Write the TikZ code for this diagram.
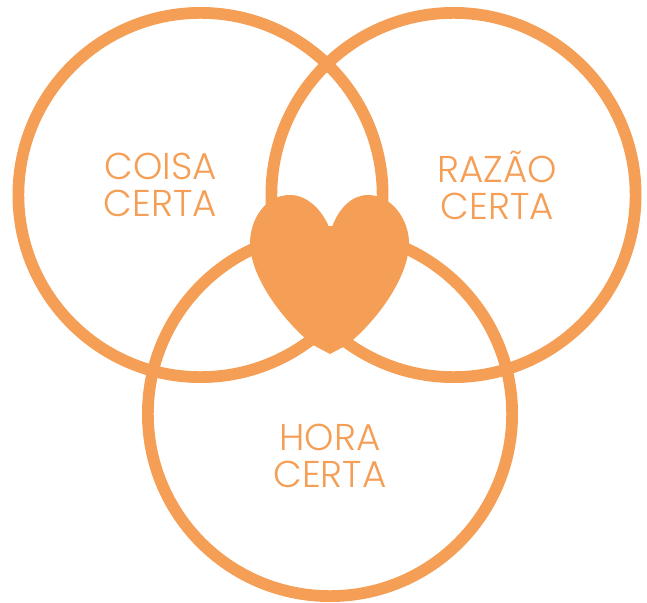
\documentclass[tikz,border=0pt]{standalone}
\usepackage{fontspec}
\setmainfont{Poppins}[UprightFont=*-Light]
\definecolor{peach}{HTML}{F59E55}
\tikzset{x=0.75pt,y=-0.75pt,
 ring/.style={draw=peach,line width=8.8pt,fill=none,circle,minimum size=273.2pt,inner sep=0pt},
 lbl/.style={text=peach,align=center,font=\fontsize{28}{27.8}\selectfont,inner sep=0pt}}
\begin{document}
\begin{tikzpicture}
\useasboundingbox (0,0) rectangle (647,603);
\node[ring] (coisa) at (200.5,195) {};
\node[ring] (razao) at (453.5,195) {};
\node[ring] (hora) at (330,414) {};
\fill[peach] (329,227) .. controls (321,208) and (306,195) .. (290,195)
 .. controls (265,195) and (250,220) .. (250,243)
 .. controls (250,275) and (280,318) .. (313,345)
 -- (330,354) -- (347,345)
 .. controls (380,318) and (409,275) .. (409,243)
 .. controls (409,220) and (392,195) .. (368,195)
 .. controls (352,195) and (339,208) .. (332,227) -- cycle;
\node[lbl] (t1) at (160.5,185) {COISA\\CERTA};
\node[lbl] (t2) at (497.5,185) {RAZÃO\\CERTA};
\node[lbl] (t3) at (330,456) {HORA\\CERTA};
\end{tikzpicture}
\end{document}
